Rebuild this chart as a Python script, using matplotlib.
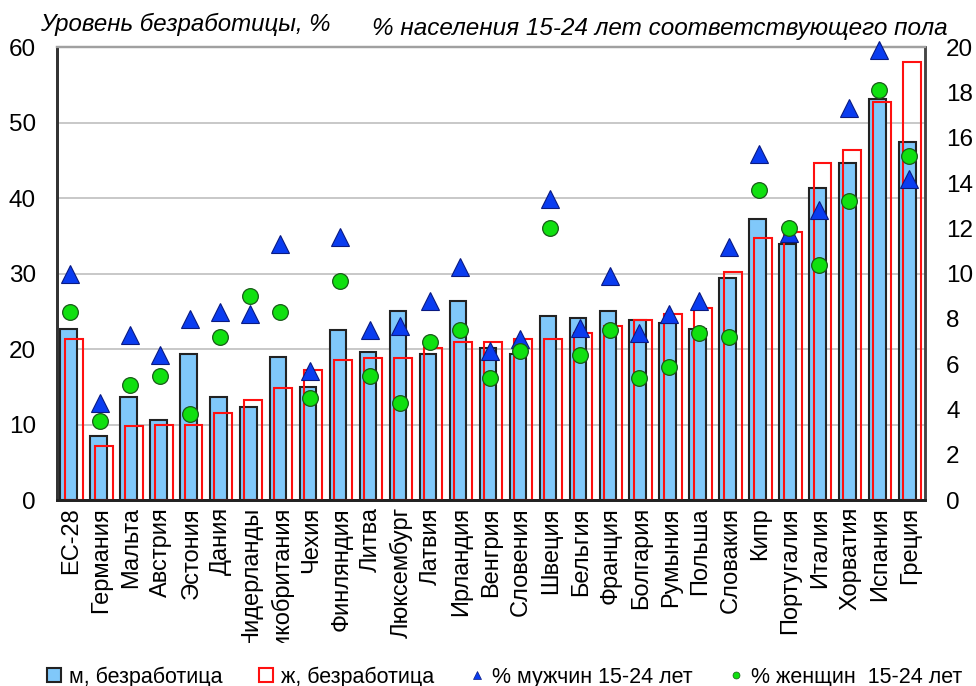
import matplotlib
matplotlib.use('Agg')
import matplotlib.pyplot as plt
import numpy as np
from matplotlib.lines import Line2D
from matplotlib.transforms import Bbox, TransformedBbox

plt.rcParams['font.family'] = ['Liberation Sans', 'DejaVu Sans']

countries = ['ЕС-28', 'Германия', 'Мальта', 'Австрия', 'Эстония', 'Дания',
             'Нидерланды', 'Великобритания', 'Чехия', 'Финляндия', 'Литва',
             'Люксембург', 'Латвия', 'Ирландия', 'Венгрия', 'Словения', 'Швеция',
             'Бельгия', 'Франция', 'Болгария', 'Румыния', 'Польша', 'Словакия',
             'Кипр', 'Португалия', 'Италия', 'Хорватия', 'Испания', 'Греция']

# unemployment rate, % (left axis)
male_unemp = [22.7, 8.5, 13.7, 10.6, 19.3, 13.7, 12.4, 19.0, 15.0, 22.6, 19.6,
              25.1, 19.3, 26.4, 20.1, 19.3, 24.4, 24.1, 25.1, 23.8, 23.5, 22.7,
              29.4, 37.2, 33.9, 41.3, 44.7, 53.2, 47.4]
female_unemp = [21.4, 7.2, 9.8, 10.0, 10.0, 11.6, 13.2, 14.8, 17.2, 18.5, 18.8,
                18.8, 20.1, 20.9, 20.9, 21.4, 21.4, 22.2, 23.1, 23.8, 24.6, 25.4,
                30.2, 34.7, 35.5, 44.7, 46.4, 52.8, 58.0]

# % of population 15-24 of the same sex (right axis)
male_share = [10.0, 4.3, 7.3, 6.4, 8.0, 8.3, 8.2, 11.3, 5.7, 11.6, 7.5, 7.7, 8.8,
              10.3, 6.6, 7.1, 13.3, 7.6, 9.9, 7.4, 8.2, 8.8, 11.2, 15.3, 11.8,
              12.8, 17.3, 19.9, 14.2]
female_share = [8.3, 3.5, 5.1, 5.5, 3.8, 7.2, 9.0, 8.3, 4.5, 9.7, 5.5, 4.3, 7.0,
                7.5, 5.4, 6.6, 12.0, 6.4, 7.5, 5.4, 5.9, 7.4, 7.2, 13.7, 12.0,
                10.4, 13.2, 18.1, 15.2]

x = np.arange(len(countries))

fig = plt.figure(figsize=(9.76, 6.86), dpi=100)
ax = fig.add_axes([0.058, 0.271, 0.890, 0.660])

ax.bar(x - 0.1, male_unemp, width=0.55, color='#80c8fa', edgecolor='#222222',
       linewidth=1.5, zorder=2)
ax.bar(x + 0.07, female_unemp, width=0.6, facecolor='none', edgecolor='#ff1010',
       linewidth=1.5, zorder=3)

ax.set_xlim(-0.5, len(countries) - 0.5)
ax.set_ylim(0, 60)
ax.set_yticks(range(0, 61, 10))
ax.yaxis.grid(True, color='#c4c4c4', linewidth=1.3)
ax.set_axisbelow(True)
ax.tick_params(axis='y', length=0, pad=15, labelsize=17.5)
ax.set_xticks(x)
ax.set_xticklabels(countries, rotation=90, fontsize=17)
ax.tick_params(axis='x', length=0, pad=5)

ax2 = ax.twinx()
ax2.set_ylim(0, 20)
ax2.set_yticks(range(0, 21, 2))
ax2.tick_params(axis='y', length=0, pad=15, labelsize=17.5)
ax2.plot(x - 0.04, male_share, linestyle='none', marker='^', markersize=12.5,
         color='#0a3cf0', markeredgecolor='#0a1a80', markeredgewidth=0.8,
         clip_on=False, zorder=4)
ax2.plot(x - 0.04, female_share, linestyle='none', marker='o', markersize=11.3,
         color='#10e010', markeredgecolor='#1a5a1a', markeredgewidth=0.9,
         clip_on=False, zorder=5)

for a in (ax, ax2):
    a.spines['left'].set_color('#333333')
    a.spines['bottom'].set_color('#222222')
    a.spines['right'].set_color('#444444')
    a.spines['top'].set_color('#a0a0a0')
    a.spines['left'].set_linewidth(2)
    a.spines['bottom'].set_linewidth(2)
    a.spines['right'].set_linewidth(1.8)
    a.spines['top'].set_linewidth(1.6)

# long labels are cut off at the bottom as in the original
clip = TransformedBbox(Bbox.from_extents(0, 0.062, 1, 1), fig.transFigure)
for lab in ax.get_xticklabels():
    lab.set_clip_box(clip)
    lab.set_clip_on(True)

fig.text(0.041, 0.965, 'Уровень безработицы, %', fontsize=17.3, style='italic',
         ha='left', va='center')
fig.text(0.381, 0.959, '% населения 15-24 лет соответствующего пола', fontsize=17.5,
         style='italic', ha='left', va='center')

handles = [
    Line2D([], [], linestyle='none', marker='s', markersize=9.5,
           markerfacecolor='#80c8fa', markeredgecolor='#222222', markeredgewidth=1.5),
    Line2D([], [], linestyle='none', marker='s', markersize=9.5,
           markerfacecolor='white', markeredgecolor='#ff1010', markeredgewidth=1.5),
    Line2D([], [], linestyle='none', marker='^', markersize=6,
           color='#0a3cf0', markeredgecolor='#0a1a80', markeredgewidth=0.5),
    Line2D([], [], linestyle='none', marker='o', markersize=5,
           color='#10e010', markeredgecolor='#1a5a1a', markeredgewidth=0.5),
]
labels = ['м, безработица', 'ж, безработица', '% мужчин 15-24 лет',
          '% женщин  15-24 лет']
fig.legend(handles, labels, loc='center', bbox_to_anchor=(0.516, 0.013), ncol=4,
           frameon=False, fontsize=15.5, handlelength=0.8, handletextpad=0.3,
           columnspacing=1.6, borderpad=0)

fig.savefig('out.png', dpi=100)
